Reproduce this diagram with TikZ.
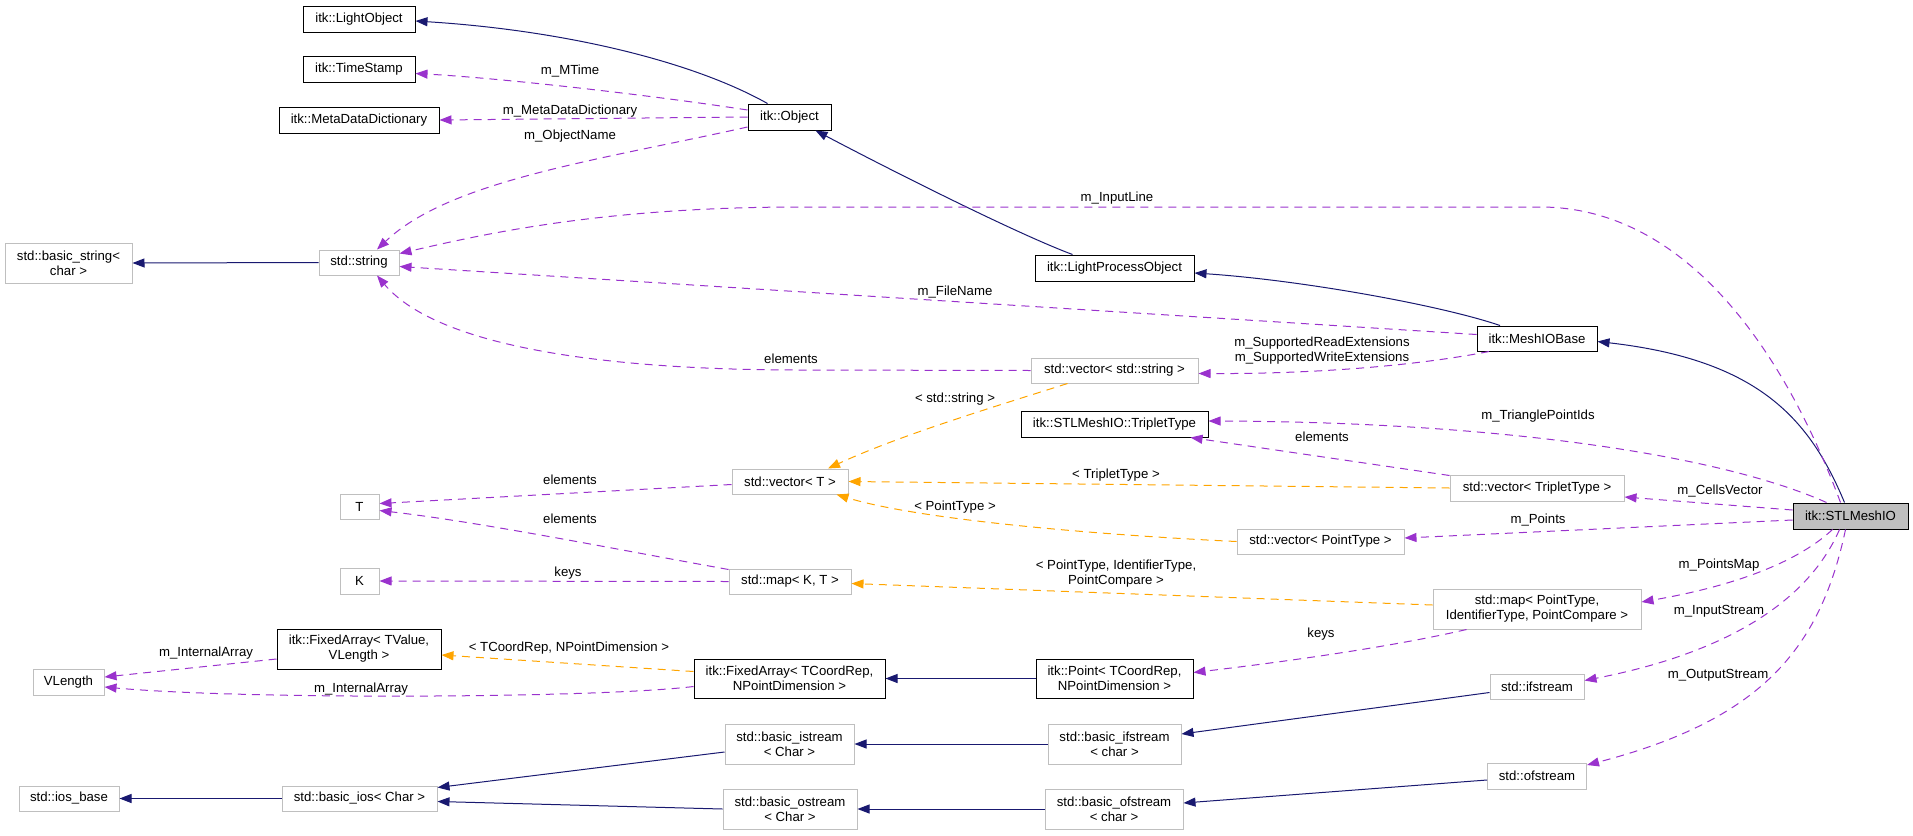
\documentclass[tikz,border=0pt]{standalone}
\usepackage{fontspec}
\setmainfont{Liberation Sans}
\usetikzlibrary{arrows.meta,calc}
\definecolor{navyc}{RGB}{25,25,112}
\definecolor{purpc}{RGB}{154,50,205}
\definecolor{orgc}{RGB}{255,165,0}
\definecolor{grayb}{RGB}{191,191,191}
\newcommand{\lblfont}{\fontsize{13.2}{15}\selectfont}
\begin{document}
\begin{tikzpicture}[x=1pt,y=-1pt,
  box/.style={draw, line width=1pt, inner sep=0pt, align=center, font=\lblfont},
  dbox/.style={box, draw=black},
  gbox/.style={box, draw=grayb},
  sz/.style 2 args={minimum width=#1pt, minimum height=#2pt},
  elbl/.style={font=\lblfont, inner sep=0pt, align=center},
  tipc/.style={-{Triangle[length=12pt,width=9pt]}},
  inh/.style={draw=navyc, line width=1pt, tipc},
  use/.style={draw=purpc, line width=1pt, dash pattern=on 8pt off 6pt, tipc},
  tmpl/.style={draw=orgc, line width=1pt, dash pattern=on 8pt off 6pt, tipc}]
\useasboundingbox (0,0) rectangle (1913,835);

% nodes
\node[dbox, sz={112}{26}] (lightobj) at (359,19) {itk::LightObject};
\node[dbox, sz={112}{26}] (timestamp) at (359,69.5) {itk::TimeStamp};
\node[dbox, sz={160}{26}] (mdd) at (359,120) {itk::MetaDataDictionary};
\node[dbox, sz={83}{26}] (object) at (789.5,117) {itk::Object};
\node[gbox, sz={127}{40}] (bstring) at (68.5,263) {std::basic\_string<\\char >};
\node[gbox, sz={80}{25}] (string) at (359,262.5) {std::string};
\node[dbox, sz={159}{26}] (lpo) at (1114.5,268) {itk::LightProcessObject};
\node[dbox, sz={120}{25}] (meshio) at (1537,338.5) {itk::MeshIOBase};
\node[dbox, sz={115}{26}, fill=grayb] (stl) at (1850.5,516) {itk::STLMeshIO};
\node[gbox, sz={167}{25}] (vstring) at (1114.5,370.5) {std::vector< std::string >};
\node[dbox, sz={187}{26}] (triplet) at (1114.5,424) {itk::STLMeshIO::TripletType};
\node[gbox, sz={174}{26}] (vtriplet) at (1537,488) {std::vector< TripletType >};
\node[gbox, sz={167}{25}] (vpoint) at (1320.5,541.5) {std::vector< PointType >};
\node[gbox, sz={208}{40}] (mappt) at (1537,609) {std::map< PointType,\\IdentifierType, PointCompare >};
\node[gbox, sz={116}{25}] (vect) at (790,481.5) {std::vector< T >};
\node[gbox, sz={122}{25}] (mapkt) at (790,581.5) {std::map< K, T >};
\node[gbox, sz={39}{25}] (T) at (359.5,506.5) {T};
\node[gbox, sz={39}{26}] (K) at (359.5,581) {K};
\node[dbox, sz={164}{40}] (fatv) at (359,649) {itk::FixedArray< TValue,\\VLength >};
\node[gbox, sz={71}{26}] (vlength) at (68.5,682) {VLength};
\node[gbox, sz={100}{25}] (iosbase) at (69,798.5) {std::ios\_base};
\node[gbox, sz={155}{25}] (basicios) at (359.5,798.5) {std::basic\_ios< Char >};
\node[dbox, sz={191}{39}] (fatcr) at (789.5,678.5) {itk::FixedArray< TCoordRep,\\NPointDimension >};
\node[gbox, sz={129}{40}] (bistream) at (789.5,744) {std::basic\_istream\\< Char >};
\node[gbox, sz={134}{40}] (bostream) at (790,809) {std::basic\_ostream\\< Char >};
\node[dbox, sz={157}{39}] (point) at (1114.5,678.5) {itk::Point< TCoordRep,\\NPointDimension >};
\node[gbox, sz={133}{40}] (bifstream) at (1114.5,744) {std::basic\_ifstream\\< char >};
\node[gbox, sz={138}{40}] (bofstream) at (1114,809) {std::basic\_ofstream\\< char >};
\node[gbox, sz={94}{25}] (ifstream) at (1537,686.5) {std::ifstream};
\node[gbox, sz={99}{26}] (ofstream) at (1537,776) {std::ofstream};

% inheritance
\draw[inh] ($(object.north)+(-22,0)$) .. controls (690,60) and (560,30) .. ($(lightobj.east)+(0,2)$);
\draw[inh] ($(lpo.north)+(-42,0)$) .. controls (1020,235) and (900,175) .. ($(object.south)+(26,0)$);
\draw[inh] ($(meshio.north)+(-37,0)$) .. controls (1440,305) and (1300,280) .. ($(lpo.east)+(0,5)$);
\draw[inh] ($(stl.north)+(-6,0)$) .. controls (1810,420) and (1760,360) .. ($(meshio.east)+(0,3)$);
\draw[inh] (string.west) -- (bstring.east);
\draw[inh] (point.west) -- (fatcr.east);
\draw[inh] ($(ifstream.west)+(0,6)$) -- ($(bifstream.east)+(0,-10)$);
\draw[inh] ($(ofstream.west)+(0,4)$) -- ($(bofstream.east)+(0,-6)$);
\draw[inh] (bifstream.west) -- (bistream.east);
\draw[inh] (bofstream.west) -- (bostream.east);
\draw[inh] ($(bistream.west)+(0,8)$) -- ($(basicios.east)+(0,-11)$);
\draw[inh] (bostream.west) -- ($(basicios.east)+(0,3)$);
\draw[inh] (basicios.west) -- (iosbase.east);

% usage
\draw[use] ($(object.west)+(0,-7)$) .. controls (650,95) and (500,78) .. ($(timestamp.east)+(0,4)$);
\draw[use] (object.west) -- (mdd.east);
\draw[use] ($(object.west)+(0,10)$) .. controls (600,160) and (450,180) .. ($(string.north)+(18,0)$);
\draw[use] ($(stl.north)+(-10,0)$) .. controls (1780,340) and (1680,207) .. (1540,207) -- (800,207) .. controls (600,207) and (480,235) .. ($(string.east)+(0,-9)$);
\draw[use] ($(meshio.west)+(0,-4)$) -- ($(string.east)+(0,4)$);
\draw[use] (vstring.west) -- (800,370) .. controls (620,370) and (440,350) .. ($(string.south)+(18,0)$);
\draw[use] ($(meshio.south)+(-48,0)$) .. controls (1420,365) and (1320,374) .. ($(vstring.east)+(0,3)$);
\draw[use] ($(vect.west)+(0,3)$) -- ($(T.east)+(0,-3)$);
\draw[use] ($(mapkt.north west)+(0,1)$) .. controls (620,550) and (480,522) .. ($(T.east)+(0,4)$);
\draw[use] (mapkt.west) -- (K.east);
\draw[use] ($(vtriplet.north west)+(0,1)$) -- ($(triplet.south east)+(-18,0)$);
\draw[use] ($(stl.north)+(-24,0)$) .. controls (1720,455) and (1500,422) .. ($(triplet.east)+(0,-3)$);
\draw[use] ($(stl.west)+(0,-6)$) -- ($(vtriplet.east)+(0,9)$);
\draw[use] ($(stl.west)+(0,4)$) -- ($(vpoint.east)+(0,-3.5)$);
\draw[use] ($(stl.south)+(-18,0)$) .. controls (1800,560) and (1740,585) .. ($(mappt.east)+(0,-7)$);
\draw[use] ($(stl.south)+(-11,0)$) .. controls (1800,620) and (1690,660) .. ($(ifstream.east)+(0,-6)$);
\draw[use] ($(stl.south)+(-5,0)$) .. controls (1820,650) and (1760,720) .. ($(ofstream.east)+(0,-11)$);
\draw[use] ($(mappt.south west)+(34,0)$) .. controls (1400,645) and (1300,660) .. ($(point.east)+(0,-6)$);
\draw[use] ($(fatv.west)+(0,10)$) -- ($(vlength.east)+(0,-5)$);
\draw[use] ($(fatcr.west)+(0,8)$) .. controls (600,698) and (250,700) .. ($(vlength.east)+(0,5)$);

% template
\draw[tmpl] ($(vstring.south)+(-47,0)$) .. controls (1000,405) and (900,435) .. ($(vect.north)+(38,0)$);
\draw[tmpl] (vtriplet.west) -- (vect.east);
\draw[tmpl] (vpoint.west) .. controls (1100,535) and (920,520) .. ($(vect.south east)+(-12,0)$);
\draw[tmpl] ($(mappt.west)+(0,-4)$) -- ($(mapkt.east)+(0,2)$);
\draw[tmpl] ($(fatcr.west)+(0,-7)$) -- ($(fatv.east)+(0,6)$);

% labels
\node[elbl] (l1) at (570,71) {m\_MTime};
\node[elbl] (l2) at (570,111) {m\_MetaDataDictionary};
\node[elbl] (l3) at (570,136) {m\_ObjectName};
\node[elbl] (l4) at (1117,198) {m\_InputLine};
\node[elbl] (l5) at (955,292) {m\_FileName};
\node[elbl] (l6) at (791,359) {elements};
\node[elbl] (l7) at (1322,351) {m\_SupportedReadExtensions\\m\_SupportedWriteExtensions};
\node[elbl] (l8) at (955,399) {< std::string >};
\node[elbl] (l9) at (570,480) {elements};
\node[elbl] (l10) at (570,519) {elements};
\node[elbl] (l11) at (568,573) {keys};
\node[elbl] (l12) at (955,507) {< PointType >};
\node[elbl] (l13) at (1322,437) {elements};
\node[elbl] (l14) at (1116,475) {< TripletType >};
\node[elbl] (l15) at (1116,574) {< PointType, IdentifierType,\\PointCompare >};
\node[elbl] (l16) at (1538,416) {m\_TrianglePointIds};
\node[elbl] (l17) at (1720,491) {m\_CellsVector};
\node[elbl] (l18) at (1538,520) {m\_Points};
\node[elbl] (l19) at (1719,565) {m\_PointsMap};
\node[elbl] (l20) at (1719,611) {m\_InputStream};
\node[elbl] (l21) at (1718,675) {m\_OutputStream};
\node[elbl] (l22) at (1321,634) {keys};
\node[elbl] (l23) at (569,648) {< TCoordRep, NPointDimension >};
\node[elbl] (l24) at (206,653) {m\_InternalArray};
\node[elbl] (l25) at (361,689) {m\_InternalArray};
\end{tikzpicture}
\end{document}
